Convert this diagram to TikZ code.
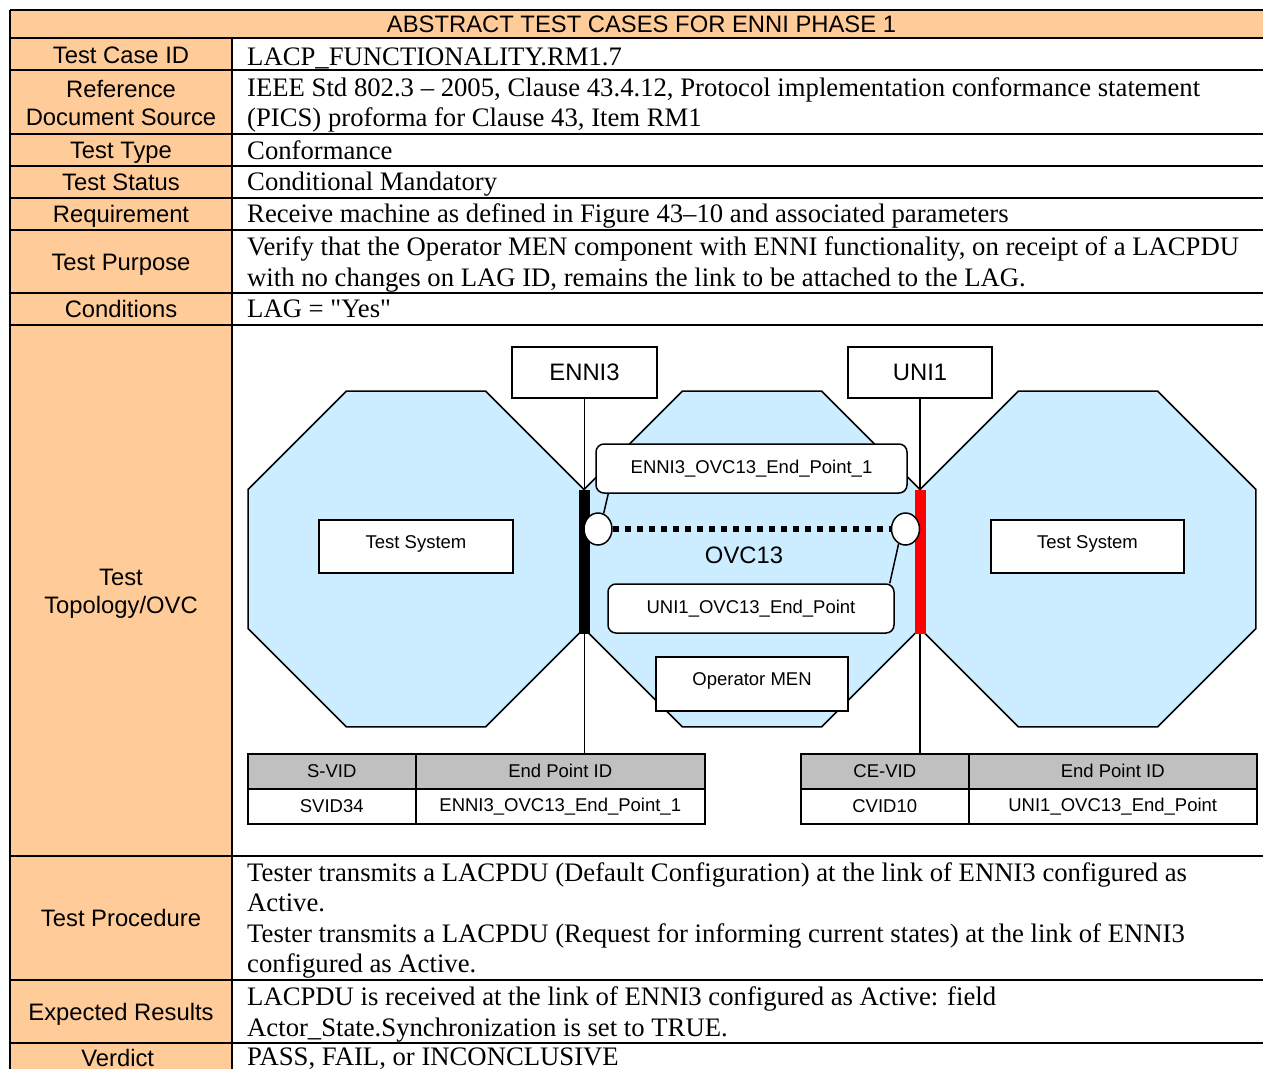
\documentclass[tikz,border=0pt]{standalone}
\usepackage{fontspec}
\setmainfont{Liberation Serif}[Ligatures=TeXOff]
\setsansfont{Liberation Sans}
\usetikzlibrary{shapes.geometric}

\definecolor{labeltan}{RGB}{255,204,153}
\definecolor{menblue}{RGB}{204,236,255}
\definecolor{hdgray}{RGB}{192,192,192}

\tikzset{%
  >=latex,
  rule/.style={line width=2pt},
  lbl/.style={font=\sffamily\fontsize{23.8}{28}\selectfont, align=center, inner sep=0pt},
  txt/.style={font=\rmfamily\fontsize{26.7}{30.5}\selectfont, align=left, anchor=west, inner sep=0pt},
  sm/.style={font=\sffamily\fontsize{18.5}{22}\selectfont},
  big/.style={font=\sffamily\fontsize{23.8}{28}\selectfont},
  conn/.style={line width=1.5pt},
  plainbox/.style={draw, fill=white, line width=1.5pt, inner sep=0pt},
  upper/.style={text height=13pt, text depth=10pt},
  epbox/.style={plainbox, rounded corners=8pt, sm},
  cell/.style={draw, line width=1.5pt, inner sep=0pt, anchor=north west, minimum height=35, sm},
  port/.style={draw, fill=white, ellipse, line width=1.5pt, minimum width=28, minimum height=32, inner sep=0pt},
  lag/.style={minimum width=11, minimum height=144, inner sep=0pt}
}

\begin{document}
\begin{tikzpicture}[x=1pt,y=-1pt]
     \useasboundingbox (0,0) rectangle (1263,1068);
     \clip (0,0) rectangle (1263,1068);

     \fill[labeltan] (10,10) rectangle (1275,38);
     \fill[labeltan] (10,38) rectangle (232,1080);
     \foreach \y in {10,38,70,134,166,198,230,293,325,856,980,1043}
       \draw[rule] (10,\y) -- (1275,\y);
     \draw[rule] (10,10) -- (10,1080);
     \draw[rule] (232,38) -- (232,1080);

     \node[lbl] (title) at (641.5,24.5) {ABSTRACT TEST CASES FOR ENNI PHASE 1};
     \foreach \n/\y/\t in
       { id/55/Test Case ID,
        ref/103/{Reference\\Document Source},
        type/153/Test Type,
        status/182/Test Status,
        req/216/Requirement,
        purp/265/Test Purpose,
        cond/309/Conditions,
        topo/594/{Test\\Topology/OVC},
        proc/918/Test Procedure,
        exp/1014/Expected Results,
        verd/1058/Verdict
       }
       \node[lbl] (l-\n) at (121,\y) {\t};

     \foreach \n/\y/\t in
       { id/58/{LACP\_FUNCTIONALITY.RM1.7},
        ref/105/{IEEE Std 802.3 – 2005, Clause 43.4.12, Protocol implementation conformance statement\\(PICS) proforma for Clause 43, Item RM1},
        type/150/Conformance,
        status/184/Conditional Mandatory,
        req/216/Receive machine as defined in Figure 43–10 and associated parameters,
        purp/264.5/{Verify that the Operator MEN component with ENNI functionality, on receipt of a LACPDU\\with no changes on LAG ID, remains the link to be attached to the LAG.},
        cond/309/{LAG = "Yes"},
        proc/920.5/{Tester transmits a LACPDU (Default Configuration) at the link of ENNI3 configured as\\Active.\\Tester transmits a LACPDU (Request for informing current states) at the link of ENNI3\\configured as Active.},
        exp/1014.5/{LACPDU is received at the link of ENNI3 configured as Active: field\\Actor\_State.Synchronization is set to TRUE.},
        verd/1059/{PASS, FAIL, or INCONCLUSIVE}
       }
       \node[txt] (t-\n) at (247,\y) {\t};

     \newdimen\R
     \R=181.8pt
     \foreach \cx in {416,752,1088}
       \draw[shift={(\cx,559)}, fill=menblue, line width=1.5pt] (22.5:\R) \foreach \a in {67.5,112.5,...,337.5} { -- (\a:\R) } -- cycle;

     \node[plainbox, big, minimum width=145, minimum height=51] (enni) at (584.5,372.5) {ENNI3};
     \node[plainbox, big, minimum width=144, minimum height=51] (uni) at (920,372.5) {UNI1};

     \foreach \n/\x/\w/\t in {svh/247/168/S-VID, eph1/415/289/End Point ID, ceh/800/168/CE-VID, eph2/968/288/End Point ID}
       \node[cell, fill=hdgray, minimum width=\w] (\n) at (\x,753) {\t};
     \foreach \n/\x/\w/\t in {svv/247/168/SVID34, epv1/415/289/ENNI3\_OVC13\_End\_Point\_1, cev/800/168/CVID10, epv2/968/288/UNI1\_OVC13\_End\_Point}
       \node[cell, minimum width=\w] (\n) at (\x,788) {\t};

     \draw[conn] (enni) -- (enni |- eph1.north);
     \draw[conn] (uni) -- (uni |- ceh.north);

     \node[lag, fill=black] (lag1) at (584.5,561.5) {};
     \node[lag, fill=red] (lag2) at (920,561.5) {};

     \node[plainbox, sm, upper, minimum width=194, minimum height=53] (tsL) at (416,546.5) {Test System};
     \node[plainbox, sm, upper, minimum width=193, minimum height=53] (tsR) at (1087.5,546.5) {Test System};
     \node[epbox, minimum width=311, minimum height=49] (epn1) at (751.5,468.5) {ENNI3\_OVC13\_End\_Point\_1};
     \node[epbox, minimum width=286, minimum height=49] (epn2) at (751,608.5) {UNI1\_OVC13\_End\_Point};
     \node[plainbox, sm, upper, minimum width=192, minimum height=54] (men) at (752,684) {Operator MEN};

     \node[port] (ep1) at (598,529) {};
     \node[port] (ep2) at (905.5,529) {};
     \draw[line width=6pt, dash pattern=on 6pt off 6pt] (ep1) -- (ep2);
     \node[big] (ovc) at (744,555) {OVC13};

     \draw[conn] ([xshift=13pt]epn1.south west) -- (ep1.70);
     \draw[conn] (ep2.245) -- ([xshift=-5pt]epn2.north east);

\end{tikzpicture}
\end{document}
